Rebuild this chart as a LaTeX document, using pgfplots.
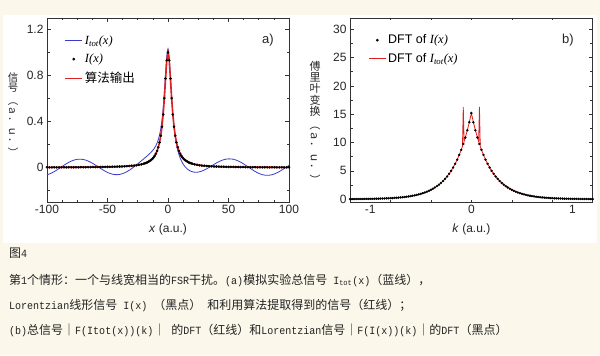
\documentclass[border=0pt]{standalone}
\usepackage{fontspec}
\setmainfont{Liberation Sans}
\newfontfamily\cjk{Noto Sans CJK SC}
\newfontfamily\tnr{Liberation Serif}
\setmonofont{Liberation Mono}
\newfontfamily\monoc[FakeStretch=0.91]{Liberation Mono}
\usepackage{pgfplots}
\usepackage{pgfplotstable}
\pgfplotsset{compat=1.18}
\definecolor{beige}{HTML}{FBF7EA}
\definecolor{myblue}{HTML}{3A3ACF}
\definecolor{myred}{HTML}{DD2222}
\definecolor{axgray}{HTML}{333333}
\definecolor{captxt}{HTML}{222222}
\newcommand\zh[1]{{\cjk\fontsize{12bp}{14bp}\selectfont #1}}
\newcommand\mo[1]{{\monoc\fontsize{11bp}{14bp}\selectfont #1}}

\pgfplotstableread{
x y
-100 0.0014
-98 0.0014
-96 0.0015
-94 0.0015
-92 0.0016
-90 0.0017
-88 0.0018
-86 0.0018
-84 0.0019
-82 0.0020
-80 0.0021
-78 0.0022
-76 0.0024
-74 0.0025
-72 0.0026
-70 0.0028
-68 0.0030
-66 0.0031
-64 0.0033
-62 0.0036
-60 0.0038
-58 0.0041
-56 0.0043
-54 0.0047
-52 0.0050
-50 0.0054
-48 0.0059
-46 0.0064
-44 0.0070
-42 0.0077
-40 0.0085
-38 0.0094
-36 0.0105
-34 0.0117
-32 0.0132
-30 0.0150
-28 0.0172
-26 0.0198
-24 0.0232
-22 0.0275
-20 0.0331
-19 0.0365
-18 0.0405
-17 0.0452
-16 0.0508
-15 0.0574
-14 0.0653
-13 0.0749
-12 0.0868
-11 0.1016
-10 0.1204
-9 0.1446
-8 0.1762
-7 0.2184
-6 0.2755
-5 0.3540
-4 0.4610
-3 0.6030
-2 0.7740
-1 0.9320
0 1.0000
1 0.9320
2 0.7740
3 0.6030
4 0.4610
5 0.3540
6 0.2755
7 0.2184
8 0.1762
9 0.1446
10 0.1204
11 0.1016
12 0.0868
13 0.0749
14 0.0653
15 0.0574
16 0.0508
17 0.0452
18 0.0405
19 0.0365
20 0.0331
22 0.0275
24 0.0232
26 0.0198
28 0.0172
30 0.0150
32 0.0132
34 0.0117
36 0.0105
38 0.0094
40 0.0085
42 0.0077
44 0.0070
46 0.0064
48 0.0059
50 0.0054
52 0.0050
54 0.0047
56 0.0043
58 0.0041
60 0.0038
62 0.0036
64 0.0033
66 0.0031
68 0.0030
70 0.0028
72 0.0026
74 0.0025
76 0.0024
78 0.0022
80 0.0021
82 0.0020
84 0.0019
86 0.0018
88 0.0018
90 0.0017
92 0.0016
94 0.0015
96 0.0015
98 0.0014
100 0.0014
}\Ldata

\pgfplotstableread{
x y
-100 -0.0630
-98 -0.0560
-96 -0.0470
-94 -0.0355
-92 -0.0227
-90 -0.0089
-88 0.0053
-86 0.0193
-84 0.0327
-82 0.0448
-80 0.0552
-78 0.0634
-76 0.0692
-74 0.0721
-72 0.0722
-70 0.0696
-68 0.0642
-66 0.0562
-64 0.0461
-62 0.0344
-60 0.0213
-58 0.0076
-56 -0.0063
-54 -0.0196
-52 -0.0320
-50 -0.0428
-48 -0.0516
-46 -0.0579
-44 -0.0616
-42 -0.0623
-40 -0.0601
-38 -0.0549
-36 -0.0470
-34 -0.0365
-32 -0.0238
-30 -0.0093
-28 0.0066
-26 0.0233
-24 0.0407
-22 0.0583
-20 0.0759
-18 0.0936
-16 0.1120
-14 0.1321
-12 0.1564
-10 0.1900
-9 0.2132
-8 0.2430
-7 0.2827
-6 0.3367
-5 0.4115
-4 0.5141
-3 0.6512
-2 0.8168
-1 0.9690
0 1.0308
1 0.9563
2 0.7915
3 0.6136
4 0.4645
5 0.3505
6 0.2649
7 0.2009
8 0.1519
9 0.1138
10 0.0834
12 0.0386
14 0.0078
16 -0.0135
18 -0.0281
20 -0.0369
22 -0.0411
24 -0.0411
26 -0.0377
28 -0.0310
30 -0.0220
32 -0.0111
34 0.0011
36 0.0140
38 0.0269
40 0.0393
42 0.0505
44 0.0601
46 0.0676
48 0.0727
50 0.0750
52 0.0746
54 0.0715
56 0.0655
58 0.0572
60 0.0466
62 0.0344
64 0.0208
66 0.0066
68 -0.0076
70 -0.0215
72 -0.0344
74 -0.0457
76 -0.0551
78 -0.0621
80 -0.0665
82 -0.0680
84 -0.0667
86 -0.0625
88 -0.0557
90 -0.0465
92 -0.0354
94 -0.0228
96 -0.0091
98 0.0049
100 0.0189
}\Tdata

\pgfplotstableread{
k y
-1.20 0.019
-1.18 0.022
-1.16 0.024
-1.14 0.027
-1.12 0.030
-1.10 0.034
-1.08 0.038
-1.06 0.042
-1.04 0.047
-1.02 0.053
-1.00 0.059
-0.98 0.066
-0.96 0.073
-0.94 0.082
-0.92 0.092
-0.90 0.102
-0.88 0.114
-0.86 0.128
-0.84 0.143
-0.82 0.160
-0.80 0.179
-0.78 0.200
-0.76 0.223
-0.74 0.249
-0.72 0.279
-0.70 0.311
-0.68 0.348
-0.66 0.389
-0.64 0.434
-0.62 0.485
-0.60 0.542
-0.58 0.606
-0.56 0.677
-0.54 0.757
-0.52 0.846
-0.50 0.945
-0.48 1.06
-0.46 1.18
-0.44 1.32
-0.42 1.47
-0.40 1.65
-0.38 1.84
-0.36 2.06
-0.34 2.30
-0.32 2.57
-0.30 2.87
-0.28 3.21
-0.26 3.59
-0.24 4.01
-0.22 4.48
-0.20 5.00
-0.18 5.59
-0.16 6.25
-0.14 6.98
-0.12 7.81
-0.10 8.72
-0.08 9.75
-0.06 10.89
-0.04 12.17
-0.02 13.60
0.00 15.20
0.02 13.60
0.04 12.17
0.06 10.89
0.08 9.75
0.10 8.72
0.12 7.81
0.14 6.98
0.16 6.25
0.18 5.59
0.20 5.00
0.22 4.48
0.24 4.01
0.26 3.59
0.28 3.21
0.30 2.87
0.32 2.57
0.34 2.30
0.36 2.06
0.38 1.84
0.40 1.65
0.42 1.47
0.44 1.32
0.46 1.18
0.48 1.06
0.50 0.945
0.52 0.846
0.54 0.757
0.56 0.677
0.58 0.606
0.60 0.542
0.62 0.485
0.64 0.434
0.66 0.389
0.68 0.348
0.70 0.311
0.72 0.279
0.74 0.249
0.76 0.223
0.78 0.200
0.80 0.179
0.82 0.160
0.84 0.143
0.86 0.128
0.88 0.114
0.90 0.102
0.92 0.092
0.94 0.082
0.96 0.073
0.98 0.066
1.00 0.059
1.02 0.053
1.04 0.047
1.06 0.042
1.08 0.038
1.10 0.034
1.12 0.030
1.14 0.027
1.16 0.024
1.18 0.022
1.20 0.019
}\Ddata

\pgfplotstableread{
k y
-1.20 0.019
-1.16 0.024
-1.12 0.030
-1.08 0.038
-1.04 0.047
-1.00 0.059
-0.96 0.073
-0.92 0.092
-0.88 0.114
-0.84 0.143
-0.80 0.179
-0.76 0.223
-0.72 0.279
-0.68 0.348
-0.64 0.434
-0.60 0.542
-0.56 0.677
-0.52 0.846
-0.48 1.06
-0.44 1.32
-0.40 1.65
-0.36 2.06
-0.32 2.57
-0.28 3.21
-0.24 4.01
-0.20 5.00
-0.16 6.25
-0.14 6.98
-0.12 7.81
-0.10 8.72
-0.088 9.32
-0.08 16.3
-0.072 10.19
-0.06 10.89
-0.04 12.17
-0.02 13.60
0.00 15.20
0.02 13.60
0.04 12.17
0.06 10.89
0.072 10.19
0.08 16.3
0.088 9.32
0.10 8.72
0.12 7.81
0.14 6.98
0.16 6.25
0.20 5.00
0.24 4.01
0.28 3.21
0.32 2.57
0.36 2.06
0.40 1.65
0.44 1.32
0.48 1.06
0.52 0.846
0.56 0.677
0.60 0.542
0.64 0.434
0.68 0.348
0.72 0.279
0.76 0.223
0.80 0.179
0.84 0.143
0.88 0.114
0.92 0.092
0.96 0.073
1.00 0.059
1.04 0.047
1.08 0.038
1.12 0.030
1.16 0.024
1.20 0.019
}\Rdata

\pgfplotsset{
  myaxis/.style={
    scale only axis,
    anchor=south west,
    width=242bp, height=184bp,
    axis line style={axgray, line width=0.8bp},
    every tick/.style={axgray, line width=0.6bp},
    tick align=inside,
    major tick length=4bp,
    minor tick length=2.5bp,
    ticklabel style={font=\fontsize{12bp}{14bp}\selectfont, text=black!85},
    /pgf/number format/assume math mode=true,
    label style={font=\fontsize{12bp}{14bp}\selectfont, text=black!85},
    legend style={draw=none, fill=none, inner sep=0pt, row sep=4bp,
      font=\fontsize{12.5bp}{14bp}\selectfont, cells={anchor=west}, anchor=north west},
  }
}

\begin{document}
\begin{tikzpicture}[x=1bp,y=1bp]
\fill[beige] (0,0) rectangle (600,355);
\fill[white] (3,112) rectangle (597,340);

% ---------- panel a ----------
\begin{axis}[myaxis,
  at={(47bp,153bp)},
  xmin=-100, xmax=100, ymin=-0.3, ymax=1.3,
  xtick={-100,-50,0,50,100},
  ytick={0,0.4,0.8,1.2},
  minor xtick={-87.5,-75,-62.5,-37.5,-25,-12.5,12.5,25,37.5,62.5,75,87.5},
  minor ytick={-0.2,0.2,0.6,1.0},
  xlabel={\textit{x} (a.u.)},
  xlabel style={at={(axis description cs:0.5,-0.147)}, anchor=center},
  legend style={at={(axis description cs:0.072,0.915)}},
]
\addlegendimage{line legend, draw=myblue, line width=0.9bp}
\addlegendentry{{\tnr\itshape I\textsubscript{tot}(x)}}
\addlegendimage{only marks, mark=*, mark size=1.2bp, black}
\addlegendentry{{\tnr\itshape I(x)}}
\addlegendimage{line legend, draw=myred, line width=1.3bp}
\addlegendentry{{\cjk 算法输出}}
\addplot[myblue, line width=0.8bp, smooth, forget plot] table[x=x,y=y] {\Tdata};
\addplot[myred, line width=1.6bp, forget plot] table[x=x,y=y] {\Ldata};
\addplot[only marks, mark=*, mark size=1.1bp, black, forget plot] table[x=x,y=y] {\Ldata};
\node[font=\fontsize{13bp}{15bp}\selectfont, text=black!85] at (axis description cs:0.913,0.88) {a)};
\end{axis}

% ---------- panel b ----------
\begin{axis}[myaxis,
  at={(350bp,153bp)},
  width=242.7bp,
  xmin=-1.2, xmax=1.2, ymin=-0.5, ymax=32,
  xtick={-1,0,1},
  major x tick style={draw=none},
  minor xtick={-1.2,-0.8,-0.4,0,0.4,0.8,1.2},
  ytick={0,5,10,15,20,25,30},
  minor ytick={2.5,7.5,12.5,17.5,22.5,27.5},
  xlabel={\textit{k} (a.u.)},
  xlabel style={at={(axis description cs:0.5,-0.147)}, anchor=center},
  legend style={at={(axis description cs:0.075,0.92)}},
]
\addlegendimage{only marks, mark=*, mark size=1.2bp, black}
\addlegendentry{DFT of {\tnr\itshape I(x)}}
\addlegendimage{line legend, draw=myred, line width=0.8bp}
\addlegendentry{DFT of {\tnr\itshape I\textsubscript{tot}(x)}}
\addplot[myred, line width=0.8bp, forget plot] table[x=k,y=y] {\Rdata};
\addplot[only marks, mark=*, mark size=1.0bp, black, forget plot] table[x=k,y=y] {\Ddata};
\node[font=\fontsize{13bp}{15bp}\selectfont, text=black!85] at (axis description cs:0.898,0.88) {b)};
\end{axis}

% ---------- y labels ----------
\node[anchor=north, align=center, inner sep=0pt, text=black!85, font=\cjk\fontsize{10.5bp}{10.5bp}\selectfont] at (13,283)
  {信\\号\\[-7bp]\rotatebox{-90}{（ａ．ｕ．）}};
\node[anchor=north, align=center, inner sep=0pt, text=black!85, font=\cjk\fontsize{11bp}{11.2bp}\selectfont] at (315,294)
  {傅\\里\\叶\\变\\换\\[-7bp]\rotatebox{-90}{（ａ．ｕ．）}};

% ---------- caption ----------
\begin{scope}[every node/.style={anchor=base west, inner sep=0pt, text=captxt}]
\node at (9,98) {\zh{图}\mo{4}};
\node at (9,71) {\zh{第}\mo{1}\zh{个情形：一个与线宽相当的}\mo{FSR}\zh{干扰。}\mo{(a)}\zh{模拟实验总信号}\mo{ I\textsubscript{tot}(x)}\zh{（蓝线），}};
\node at (9,46) {\mo{Lorentzian}\zh{线形信号}\mo{ I(x) }\zh{（黑点）}\mo{ }\zh{和利用算法提取得到的信号（红线）；}};
\node at (9,21) {\mo{(b)}\zh{总信号｜}\mo{F(Itot(x))(k)}\zh{｜}\mo{ }\zh{的}\mo{DFT}\zh{（红线）和}\mo{Lorentzian}\zh{信号｜}\mo{F(I(x))(k)}\zh{｜的}\mo{DFT}\zh{（黑点）}};
\end{scope}

\pgfresetboundingbox
\path[use as bounding box] (0,0) rectangle (600,355);
\end{tikzpicture}
\end{document}
